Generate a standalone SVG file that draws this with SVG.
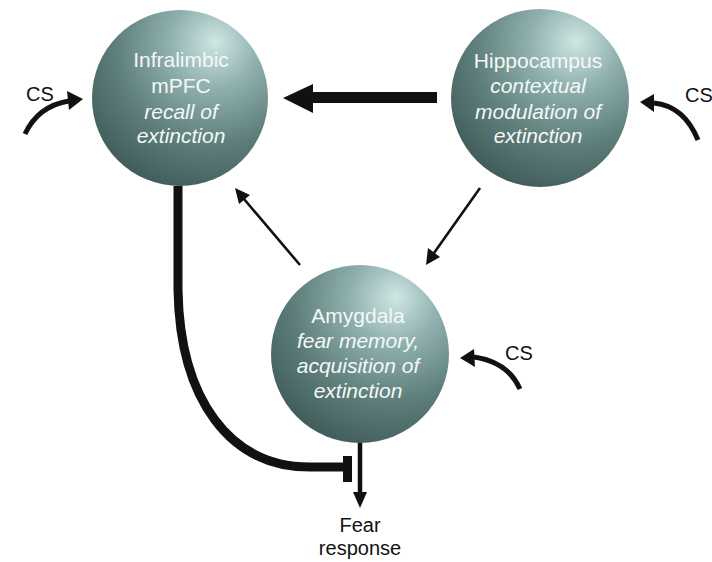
<svg xmlns="http://www.w3.org/2000/svg" width="712" height="562" viewBox="0 0 712 562">
<defs>
<radialGradient id="sph" cx="0.68" cy="0.22" r="0.85" fx="0.7" fy="0.18">
<stop offset="0" stop-color="#cfe6e4"/>
<stop offset="0.3" stop-color="#8fb0ae"/>
<stop offset="0.65" stop-color="#5f7f7c"/>
<stop offset="1" stop-color="#3f5b59"/>
</radialGradient>
<style>
.node{fill:url(#sph);}
.t{font-family:"Liberation Sans",Arial,sans-serif;font-size:21px;fill:#f4f8f8;text-anchor:middle;}
.i{font-style:italic;}
.lbl{font-family:"Liberation Sans",Arial,sans-serif;font-size:20px;fill:#111;}
.thin{stroke:#111;stroke-width:2.6;fill:none;}
.cs{stroke:#111;stroke-width:5;fill:none;stroke-linecap:butt;}
.hd{fill:#111;}
</style>
</defs>
<rect width="712" height="562" fill="#ffffff"/>

<g id="connectors">
  <!-- Hippocampus to Infralimbic (thick) -->
  <rect x="310" y="92" width="127" height="11" class="hd"/>
  <polygon points="283,98 313,84 313,113" class="hd"/>
  <!-- Hippocampus to Amygdala -->
  <line x1="480" y1="188" x2="434" y2="253" class="thin"/>
  <polygon points="426,265 428,248 440,257" class="hd"/>
  <!-- Amygdala to Infralimbic -->
  <line x1="300" y1="265" x2="244" y2="199" class="thin"/>
  <polygon points="235,188 250,195 239,204" class="hd"/>
  <!-- Infralimbic inhibits fear response -->
  <path d="M178,186 V290 C180,400 230,467 310,467 H345" stroke="#111" stroke-width="9" fill="none"/>
  <rect x="343" y="456" width="9" height="26" class="hd"/>
  <!-- Amygdala to fear response -->
  <line x1="360" y1="442" x2="360" y2="496" stroke="#111" stroke-width="4.5"/>
  <polygon points="360,508 353,492 367,492" class="hd"/>
  <!-- CS inputs -->
  <path d="M25,134 Q38,106 69,101" class="cs"/>
  <polygon points="83,99 67,91 69,110" class="hd"/>
  <path d="M698,140 Q684,106 654,103" class="cs"/>
  <polygon points="640,102 654,94 654,112" class="hd"/>
  <path d="M520,389 Q508,362 474,357" class="cs"/>
  <polygon points="460,358 474,349 475,367" class="hd"/>
</g>

<g id="cs-labels">
  <text class="lbl" x="26" y="101">CS</text>
  <text class="lbl" x="685" y="102">CS</text>
  <text class="lbl" x="505" y="360">CS</text>
</g>

<g id="infralimbic">
  <circle class="node" cx="180" cy="98" r="88"/>
  <text class="t" x="181" y="67">Infralimbic</text>
  <text class="t" x="181" y="93">mPFC</text>
  <text class="t i" x="181" y="119">recall of</text>
  <text class="t i" x="181" y="143">extinction</text>
</g>

<g id="hippocampus">
  <circle class="node" cx="540" cy="98" r="89"/>
  <text class="t" x="538" y="68">Hippocampus</text>
  <text class="t i" x="538" y="93">contextual</text>
  <text class="t i" x="538" y="119">modulation of</text>
  <text class="t i" x="538" y="143">extinction</text>
</g>

<g id="amygdala">
  <circle class="node" cx="360" cy="354" r="89"/>
  <text class="t" x="358" y="323">Amygdala</text>
  <text class="t i" x="358" y="348">fear memory,</text>
  <text class="t i" x="358" y="373">acquisition of</text>
  <text class="t i" x="358" y="398">extinction</text>
</g>

<g id="fear-response">
  <text class="lbl" x="360" y="532" text-anchor="middle">Fear</text>
  <text class="lbl" x="360" y="555" text-anchor="middle">response</text>
</g>
</svg>
